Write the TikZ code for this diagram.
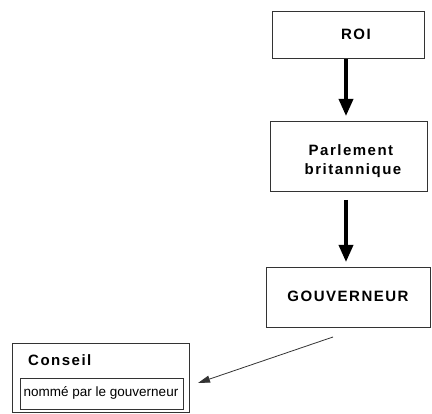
\documentclass[tikz,border=0pt]{standalone}
\usepackage{fontspec}
\setmainfont{Liberation Sans}
\usetikzlibrary{arrows.meta}
\begin{document}
\begin{tikzpicture}[x=1pt,y=1pt,
  box/.style={draw=black!80, line width=1pt, fill=white},
  lbl/.style={font=\fontsize{15}{19}\selectfont\bfseries\addfontfeature{LetterSpace=10}, inner sep=0pt},
  thick arrow/.style={line width=3.5pt, -{Triangle[length=17pt,width=14pt]}},
  thin arrow/.style={line width=0.8pt, black!80, -{Triangle[length=12pt,width=7pt]}}]
\useasboundingbox (0,0) rectangle (432,414);
% boxes
\draw[box] (272,355) rectangle (424,402);
\coordinate (roiB) at (346,355);
\node[lbl] (roi) at (356,380) {ROI};
\draw[box] (270,222) rectangle (427,292);
\coordinate (parT) at (346,298);
\coordinate (parB) at (346,214);
\node[lbl, align=left] (par) at (353,253) {\hspace*{4pt}Parlement\\britannique};
\draw[box] (266,86) rectangle (430,146);
\coordinate (gouT) at (346,152);
\node[lbl] (gou) at (348,118) {GOUVERNEUR};
\draw[box] (12,1) rectangle (189,70);
\node[lbl, anchor=west] (con) at (28,53.5) {Conseil};
\draw[box, line width=0.8pt] (20,5) rectangle (183,36);
\node[font=\fontsize{13.5}{15}\selectfont, inner sep=0pt] (nom) at (101,21) {nommé par le gouverneur};
% arrows
\draw[thick arrow] (roiB) -- (parT);
\draw[thick arrow] (parB) -- (gouT);
\coordinate (s) at (333,77);
\coordinate (e) at (198,31);
\draw[thin arrow] (s) -- (e);
\end{tikzpicture}
\end{document}
